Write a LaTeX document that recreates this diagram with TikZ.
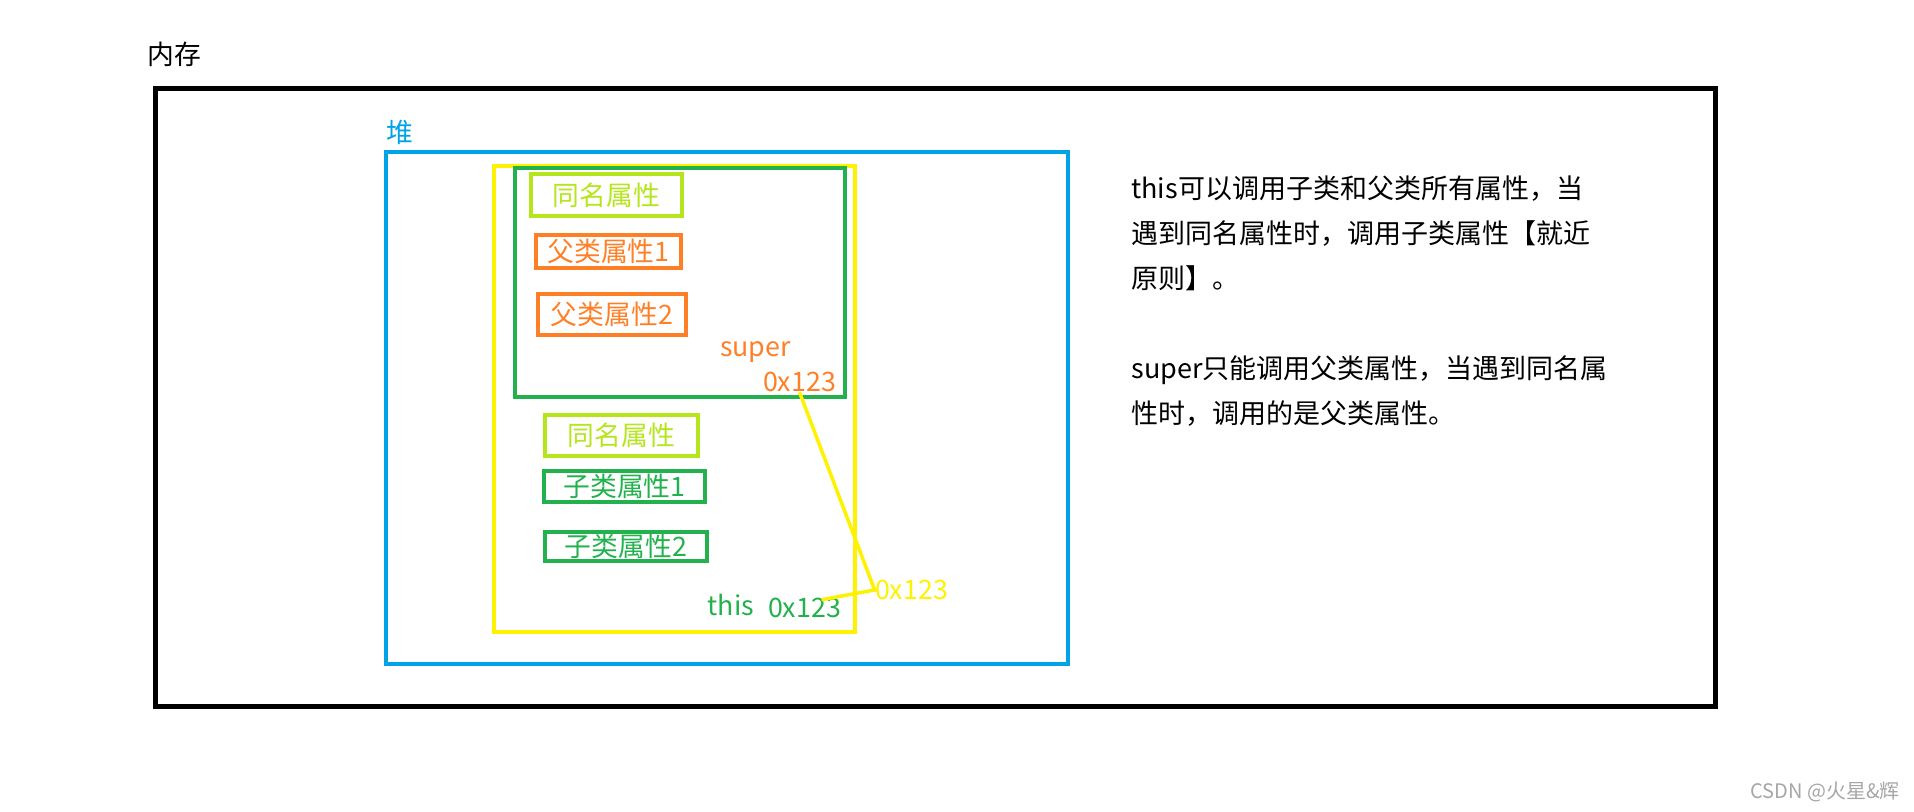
\documentclass[tikz,border=0pt]{standalone}
\usepackage{fontspec}
\setmainfont{Noto Sans CJK SC}
\usetikzlibrary{calc}
\definecolor{heapblue}{HTML}{00A2E8}
\definecolor{objyellow}{HTML}{FFF200}
\definecolor{subgreen}{HTML}{22B14C}
\definecolor{samelime}{HTML}{B5E61D}
\definecolor{superorange}{HTML}{FF7F27}

\begin{document}
\begin{tikzpicture}[x=0.5pt, y=-0.5pt,
  txt/.style={inner sep=0pt, font=\fontsize{13.4pt}{15pt}\selectfont},
  field/.style={draw, line width=2pt, inner sep=0pt, font=\fontsize{13.4pt}{15pt}\selectfont},
  note/.style={inner sep=0pt, align=left, anchor=north west, font=\fontsize{13.5pt}{22.5pt}\selectfont}]
  \useasboundingbox (0,0) rectangle (1914,811);
  \node[txt] (memlbl) at (174,54) {内存};
  \draw[line width=2.5pt] (155.5,88.5) rectangle (1715,706);
  \node[txt, heapblue] (heaplbl) at (400,132) {堆};
  \draw[heapblue, line width=2pt] (386,152) rectangle (1068,664);
  \draw[objyellow, line width=2pt] (494,165.5) rectangle (855,631.5);
  \draw[subgreen, line width=2pt] (515,168) rectangle (845,397);

  \node[field, samelime, minimum width=75.5pt, minimum height=21pt] (psame) at (606.5,195) {同名属性};
  \node[field, superorange, minimum width=72.5pt, minimum height=16.5pt] (pf1) at (608.5,251.5) {父类属性1};
  \node[field, superorange, minimum width=74pt, minimum height=20.5pt] (pf2) at (612,314.5) {父类属性2};
  \node[txt, superorange] (supername) at (755.5,352) {super};
  \node[txt, superorange] (supaddr) at (799.5,382) {0x123};

  \node[field, samelime, minimum width=76.5pt, minimum height=20.5pt] (csame) at (621.5,435.5) {同名属性};
  \node[field, subgreen, minimum width=80.5pt, minimum height=15.5pt] (cf1) at (624.5,486.5) {子类属性1};
  \node[field, subgreen, minimum width=81pt, minimum height=14.5pt] (cf2) at (626,546.5) {子类属性2};
  \node[txt, subgreen] (thisname) at (731,605) {this};
  \node[txt, subgreen] (thisaddr) at (804.5,608) {0x123};
  \node[txt, objyellow] (objaddr) at (911.5,590) {0x123};

  \draw[objyellow, line width=1.75pt] (supaddr.south) -- (objaddr.west) -- ($(thisaddr.north)+(17,2)$);

  \node[note] (thisnote) at (1131,175) {this可以调用子类和父类所有属性，当\\遇到同名属性时，调用子类属性【就近\\原则】。};
  \node[note] (supernote) at (1131,355) {super只能调用父类属性，当遇到同名属\\性时，调用的是父类属性。};

  \node[inner sep=0pt, gray!70, font=\fontsize{10pt}{12pt}\selectfont] (mark) at (1825,792) {CSDN @火星\&辉};
\end{tikzpicture}
\end{document}
